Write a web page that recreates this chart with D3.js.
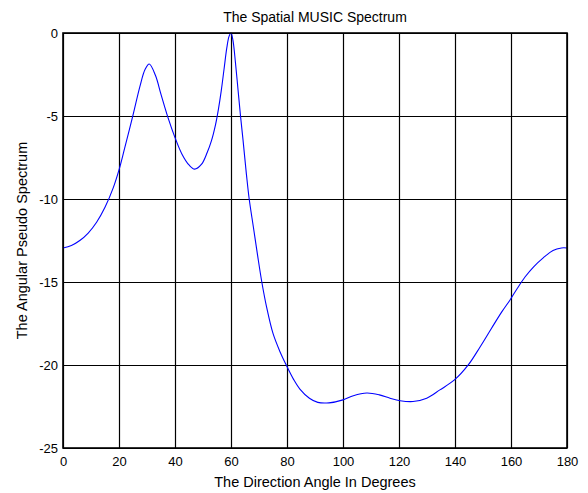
<!DOCTYPE html>
<html>
<head>
<meta charset="utf-8">
<script src="https://cdn.jsdelivr.net/npm/d3@7"></script>
<style>
  html, body { margin: 0; padding: 0; background: #fff; }
  svg { display: block; }
  text { font-family: "Liberation Sans", Arial, sans-serif; fill: #000; }
</style>
</head>
<body>
<script>
// Direction angles (degrees) and the MUSIC pseudo-spectrum (dB) at those angles
const angles = [0, 3, 6, 9, 12, 15, 18, 20, 22, 25, 27.5, 29.3, 30.8, 33, 35, 37.5, 40,
  42.5, 45, 47, 49.5, 51.5, 53, 54.5, 55.5, 56.5, 57.5, 58.5, 59.3, 60, 60.7, 61.6, 62.5,
  63.4, 64.3, 65.5, 66.5, 68, 69.5, 71, 72.7, 75, 77.5, 79.6, 82.3, 84.6, 88, 91, 95, 100,
  103.7, 108.5, 113, 116.8, 120.4, 125, 129.9, 134.6, 139.8, 144.8, 149, 153, 156.7, 159.6,
  162, 165, 168, 171.5, 175, 178, 180];
const spectrum = [-12.95, -12.8, -12.5, -12.05, -11.4, -10.5, -9.3, -8.25, -6.95, -4.95, -3.2,
  -2.2, -1.87, -2.55, -3.7, -5.1, -6.3, -7.3, -7.95, -8.2, -7.9, -7.2, -6.5, -5.5, -4.6, -3.5,
  -2.2, -0.9, -0.2, 0, -0.45, -1.8, -3.4, -5.0, -6.45, -8.5, -10.0, -11.7, -13.4, -15.0,
  -16.5, -18.1, -19.2, -19.96, -20.85, -21.45, -22.0, -22.25, -22.28, -22.1, -21.85, -21.69,
  -21.8, -22.0, -22.15, -22.2, -22.0, -21.5, -20.9, -19.98, -18.9, -17.8, -16.8, -16.1, -15.45,
  -14.7, -14.1, -13.55, -13.1, -12.95, -12.95];

const xTicks = [0, 20, 40, 60, 80, 100, 120, 140, 160, 180];
const yTicks = [0, -5, -10, -15, -20, -25];

const titleText = "The Spatial MUSIC Spectrum";
const xLabel = "The Direction Angle In Degrees";
const yLabel = "The Angular Pseudo Spectrum";

const W = 588, H = 493;
const margin = { left: 63, right: 21, top: 33, bottom: 45 };
const innerW = W - margin.left - margin.right;
const innerH = H - margin.top - margin.bottom;

const svg = d3.select("body").append("svg").attr("width", W).attr("height", H);
const g = svg.append("g").attr("transform", `translate(${margin.left},${margin.top})`);

const x = d3.scaleLinear().domain([0, 180]).range([0, innerW]);
const y = d3.scaleLinear().domain([-25, 0]).range([innerH, 0]);

// Grid lines
g.append("g").selectAll("line").data(xTicks).join("line")
  .attr("x1", d => Math.round(x(d)) + 0.5).attr("x2", d => Math.round(x(d)) + 0.5)
  .attr("y1", 0).attr("y2", innerH)
  .attr("stroke", "#000").attr("stroke-width", 1.2);
g.append("g").selectAll("line").data(yTicks).join("line")
  .attr("y1", d => Math.round(y(d)) + 0.5).attr("y2", d => Math.round(y(d)) + 0.5)
  .attr("x1", 0).attr("x2", innerW)
  .attr("stroke", "#000").attr("stroke-width", 1.2);

// Axes (labels only; tick marks coincide with the grid)
const xAxis = g.append("g").attr("transform", `translate(0,${innerH})`)
  .call(d3.axisBottom(x).tickValues(xTicks).tickSize(0).tickPadding(9).tickFormat(d3.format("d")));
const yAxis = g.append("g")
  .call(d3.axisLeft(y).tickValues(yTicks).tickSize(0).tickPadding(5).tickFormat(d => d === 0 ? "0" : String(d)));
[xAxis, yAxis].forEach(a => {
  a.select(".domain").remove();
  a.selectAll("text").style("font-size", "13px").attr("fill", "#000")
    .style("font-family", "'Liberation Sans', Arial, sans-serif");
});

// Spectrum curve
const pts = angles.map((a, i) => [a, spectrum[i]]);
const line = d3.line().x(d => x(d[0])).y(d => y(d[1])).curve(d3.curveCatmullRom.alpha(0.5));
g.append("path").datum(pts).attr("d", line)
  .attr("fill", "none").attr("stroke", "#0000ff").attr("stroke-width", 1.1);

// Plot frame
g.append("rect").attr("x", 0).attr("y", 0).attr("width", innerW).attr("height", innerH)
  .attr("fill", "none").attr("stroke", "#000").attr("stroke-width", 1.6);

// Titles
svg.append("text").attr("x", margin.left + innerW / 2).attr("y", 22)
  .attr("text-anchor", "middle").style("font-size", "14px").text(titleText);
svg.append("text").attr("x", margin.left + innerW / 2).attr("y", 487)
  .attr("text-anchor", "middle").style("font-size", "14.5px").text(xLabel);
svg.append("text").attr("transform", `translate(27,${margin.top + innerH / 2}) rotate(-90)`)
  .attr("text-anchor", "middle").style("font-size", "14.5px").text(yLabel);
</script>
</body>
</html>
